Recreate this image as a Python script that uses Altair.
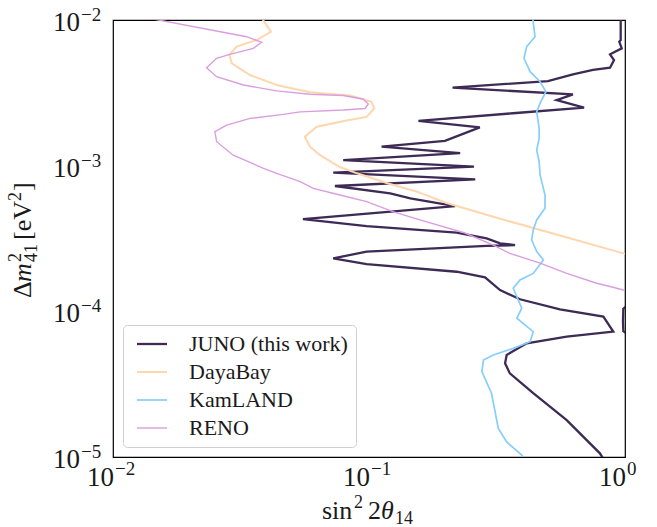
import altair as alt
import pandas as pd

# ---- data (sin^2 2theta14, dm^2_41 [eV^2]) ----
juno_x = [0.962, 0.962, 0.950, 0.971, 0.874, 0.906, 0.874, 0.750, 0.626, 0.500,
          0.212, 0.626, 0.541, 0.692, 0.365, 0.156, 0.271, 0.198, 0.112, 0.227,
          0.0793, 0.257, 0.0725, 0.260, 0.0736, 0.121, 0.145, 0.217, 0.0552, 0.0979,
          0.220, 0.288, 0.325, 0.372, 0.288, 0.0979, 0.0725, 0.0979, 0.220, 0.284,
          0.325, 0.389, 0.557, 0.823, 0.900, 0.592, 0.413, 0.345, 0.340, 0.355,
          0.438, 0.592, 0.798, 0.828]
juno_y = [0.01032, 0.00729, 0.00710, 0.00639, 0.00581, 0.00531, 0.00470, 0.00454, 0.00424, 0.00381,
          0.00343, 0.00309, 0.00282, 0.00250, 0.00229, 0.00203, 0.00183, 0.00148, 0.00135, 0.00122,
          0.00109, 0.000984, 0.000895, 0.000806, 0.000725, 0.000646, 0.000597, 0.000528, 0.000430, 0.000385,
          0.000347, 0.000317, 0.000293, 0.000285, 0.000281, 0.000257, 0.000231, 0.000211, 0.000187, 0.000171,
          0.000140, 0.000121, 0.000103, 0.0000919, 0.0000725, 0.0000670, 0.0000603, 0.0000502, 0.0000440, 0.0000375,
          0.0000274, 0.0000179, 0.0000106, 0.00000954]
# small separate JUNO contour piece at the right edge
juno2_x = [1.02, 0.985, 0.982, 0.985, 1.02]
juno2_y = [0.000110, 0.000104, 0.0000850, 0.0000730, 0.0000700]

dayabay_x = [0.0381, 0.0414, 0.0364, 0.0304, 0.0285, 0.0291, 0.0343, 0.0436, 0.0588, 0.0843,
             0.102, 0.105, 0.0979, 0.0818, 0.0625, 0.0562, 0.0588, 0.0644, 0.0770, 0.0898,
             0.118, 0.154, 0.201, 0.306, 0.549, 0.985, 1.046]
dayabay_y = [0.01032, 0.00831, 0.00729, 0.00656, 0.00575, 0.00504, 0.00419, 0.00358, 0.00319, 0.00303,
             0.00275, 0.00248, 0.00216, 0.00204, 0.00185, 0.00158, 0.00135, 0.00118, 0.000979, 0.000886,
             0.000757, 0.000663, 0.000554, 0.000446, 0.000334, 0.000250, 0.000244]

kamland_x = [0.436, 0.445, 0.413, 0.403, 0.426, 0.466, 0.491, 0.469, 0.452, 0.462,
             0.462, 0.452, 0.462, 0.466, 0.487, 0.487, 0.452, 0.438, 0.432, 0.452,
             0.480, 0.438, 0.389, 0.366, 0.395, 0.378, 0.438, 0.426, 0.366, 0.306,
             0.280, 0.276, 0.301, 0.320, 0.345, 0.395, 0.407]
kamland_y = [0.01032, 0.00768, 0.00656, 0.00546, 0.00442, 0.00377, 0.00322, 0.00275, 0.00235, 0.00180,
             0.00154, 0.00128, 0.00106, 0.000863, 0.000629, 0.000510, 0.000424, 0.000362, 0.000309, 0.000257,
             0.000225, 0.000182, 0.000164, 0.000144, 0.000105, 0.0000896, 0.0000725, 0.0000619, 0.0000557, 0.0000502,
             0.0000463, 0.0000385, 0.0000274, 0.0000157, 0.0000127, 0.0000103, 0.00000954]

reno_x = [0.0137, 0.0333, 0.0381, 0.0353, 0.0286, 0.0254, 0.0232, 0.0254, 0.0323, 0.0436,
          0.0588, 0.0793, 0.0948, 0.0994, 0.0965, 0.0793, 0.0538, 0.0463, 0.0343, 0.0278,
          0.0250, 0.0254, 0.0295, 0.0387, 0.0436, 0.0538, 0.0606, 0.0770, 0.0979, 0.124,
          0.158, 0.237, 0.306, 0.355, 0.466, 0.592, 0.775, 0.874, 0.985, 1.046]
reno_y = [0.01032, 0.00768, 0.00703, 0.00639, 0.00581, 0.00546, 0.00470, 0.00408, 0.00358, 0.00326,
          0.00309, 0.00303, 0.00287, 0.00265, 0.00247, 0.00241, 0.00234, 0.00225, 0.00211, 0.00190,
          0.00171, 0.00146, 0.00118, 0.000959, 0.000886, 0.000776, 0.000699, 0.000629, 0.000566, 0.000483,
          0.000424, 0.000345, 0.000285, 0.000250, 0.000214, 0.000182, 0.000156, 0.000148, 0.000140, 0.000137]

names = ["JUNO (this work)", "DayaBay", "KamLAND", "RENO"]
colors = ["#3d2a55", "#ffd6ad", "#87cefa", "#da9ee0"]
widths = [2.3, 1.4, 1.4, 1.4]

# tick labels (decades) drawn as base + exponent
x_ticks = [0.01, 0.1, 1.0]
x_exps = ["−2", "−1", "0"]
y_ticks = [1e-5, 1e-4, 1e-3, 1e-2]
y_exps = ["−5", "−4", "−3", "−2"]

# axis titles, typeset in pieces: sin² 2θ₁₄  and  Δm²₄₁ [eV²]
x_title_parts = ["sin", "2", "2", "θ", "14"]
y_title_parts = ["Δ", "m", "2", "41", "[eV", "2", "]"]

rows = []
def add(name, seg, xs, ys):
    for i, (a, b) in enumerate(zip(xs, ys)):
        rows.append({"exp": name, "seg": seg, "idx": i, "s": a, "dm": b})

add(names[0], "juno_a", juno_x, juno_y)
add(names[0], "juno_b", juno2_x, juno2_y)
add(names[1], "dyb", dayabay_x, dayabay_y)
add(names[2], "kl", kamland_x, kamland_y)
add(names[3], "reno", reno_x, reno_y)
df = pd.DataFrame(rows)

xt = pd.DataFrame({"s": x_ticks, "base": ["10"] * 3, "e": x_exps})
yt = pd.DataFrame({"dm": y_ticks, "base": ["10"] * 4, "e": y_exps})

FONT = "Liberation Serif"
TXT = "#1a1a1a"

def minor(decades):
    vals = []
    for d in decades:
        for k in range(1, 10):
            vals.append(k * d)
    return vals

xvals = minor([0.01, 0.1]) + [1.0]
yvals = minor([1e-5, 1e-4, 1e-3]) + [1e-2]
MAJ = "abs(log(datum.value)/LN10 - round(log(datum.value)/LN10)) < 0.001"

xscale = alt.Scale(type="log", domain=[0.01, 1], nice=False)
yscale = alt.Scale(type="log", domain=[1e-5, 1e-2], nice=False)

lines = alt.Chart(df).mark_line(clip=True).encode(
    x=alt.X("s:Q", scale=xscale, title=None,
            axis=alt.Axis(values=xvals, labels=False,
                          grid=False, domain=True, domainColor="black",
                          tickColor="black",
                          tickSize={"condition": {"test": MAJ, "value": 7}, "value": 4})),
    y=alt.Y("dm:Q", scale=yscale, title=None,
            axis=alt.Axis(values=yvals, labels=False,
                          grid=False, domain=True, domainColor="black",
                          tickColor="black",
                          tickSize={"condition": {"test": MAJ, "value": 7}, "value": 4})),
    color=alt.Color("exp:N", scale=alt.Scale(domain=names, range=colors),
                    legend=alt.Legend(title=None)),
    strokeWidth=alt.StrokeWidth("exp:N", scale=alt.Scale(domain=names, range=widths),
                                legend=alt.Legend(title=None)),
    detail="seg:N",
    order="idx:Q",
)

xbase = alt.Chart(xt).mark_text(align="right", baseline="alphabetic", dx=1,
                                font=FONT, fontSize=27, color=TXT).encode(
    x=alt.X("s:Q", scale=xscale, axis=None), y=alt.value(466), text="base:N")
xexp = alt.Chart(xt).mark_text(align="left", baseline="alphabetic", dx=2,
                               font=FONT, fontSize=19, color=TXT).encode(
    x=alt.X("s:Q", scale=xscale, axis=None), y=alt.value(455), text="e:N")
ybase = alt.Chart(yt).mark_text(align="right", baseline="alphabetic", dy=11,
                                font=FONT, fontSize=27, color=TXT).encode(
    y=alt.Y("dm:Q", scale=yscale, axis=None), x=alt.value(-33), text="base:N")
yexp = alt.Chart(yt).mark_text(align="left", baseline="alphabetic", dy=1,
                               font=FONT, fontSize=19, color=TXT).encode(
    y=alt.Y("dm:Q", scale=yscale, axis=None), x=alt.value(-32), text="e:N")

# title pieces: (text, x px, y px, size, italic, angle)
x_title_layout = [(209, 499, 26, False), (241, 488, 18, False), (255, 499, 26, False),
                  (268, 499, 26, True), (282, 504, 18, False)]
y_title_layout = [(-82, 278, 26, False), (-82, 262, 26, True), (-92, 242, 18, False),
                  (-76, 242, 18, False), (-82, 220, 26, False), (-92, 181, 18, False),
                  (-82, 171, 26, False)]

title_layers = []
for txt, (px, py, fs, it) in zip(x_title_parts, x_title_layout):
    title_layers.append(
        alt.Chart(pd.DataFrame({"t": [txt]})).mark_text(
            align="left", baseline="alphabetic", font=FONT, fontSize=fs,
            fontStyle="italic" if it else "normal", color=TXT
        ).encode(x=alt.value(px), y=alt.value(py), text="t:N"))
for txt, (px, py, fs, it) in zip(y_title_parts, y_title_layout):
    title_layers.append(
        alt.Chart(pd.DataFrame({"t": [txt]})).mark_text(
            align="left", baseline="alphabetic", font=FONT, fontSize=fs, angle=270,
            fontStyle="italic" if it else "normal", color=TXT
        ).encode(x=alt.value(px), y=alt.value(py), text="t:N"))

chart = alt.layer(lines, xbase, xexp, ybase, yexp, *title_layers).properties(
    width=512, height=437,
    padding={"left": 113, "top": 20, "right": 32, "bottom": 70},
    autosize="none",
).configure_view(
    stroke="black", strokeWidth=1.2
).configure_legend(
    orient="bottom-left", offset=10, padding=8,
    strokeColor="#d0d0d0", fillColor="white", cornerRadius=4,
    symbolType="M-1,0H5", symbolSize=100, labelOffset=36,
    labelFont=FONT, labelFontSize=22, labelColor=TXT,
    rowPadding=6, labelLimit=300,
)

chart.save("out.html", embed_options={"renderer": "svg", "actions": False})
